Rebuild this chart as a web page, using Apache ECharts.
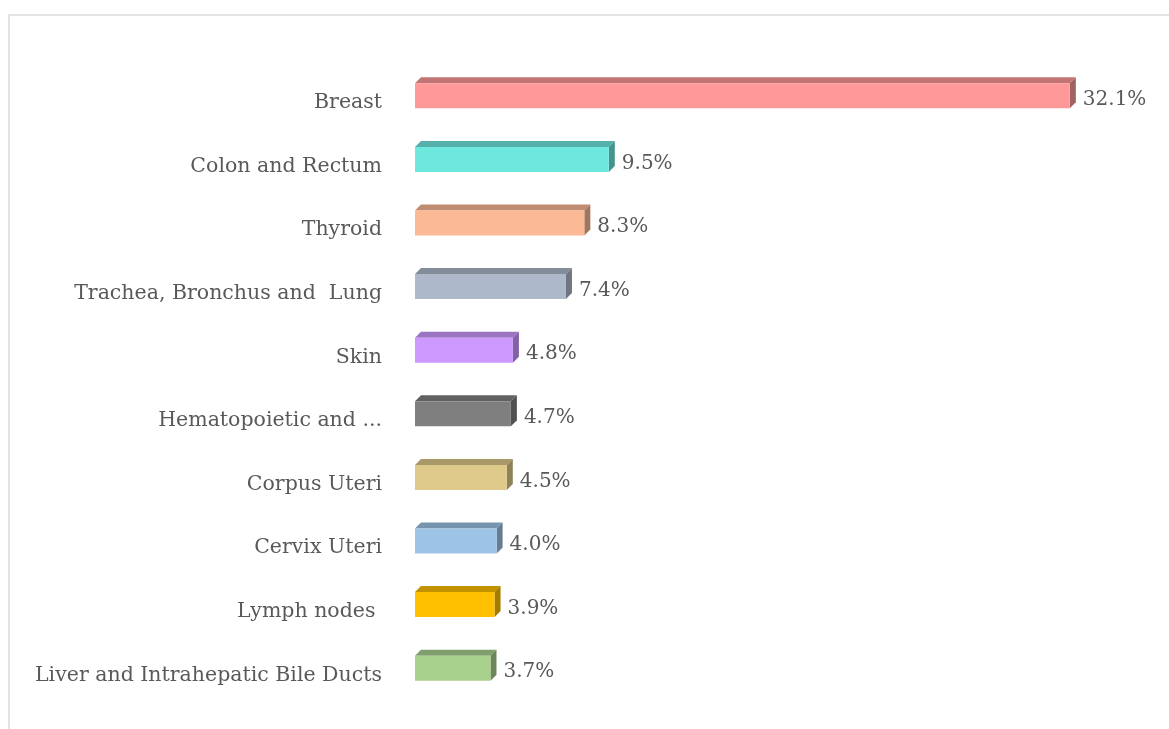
<!DOCTYPE html>
<html>
<head>
<meta charset="utf-8">
<script src="https://cdn.jsdelivr.net/npm/echarts@6/dist/echarts.min.js"></script>
<style>
  html, body { margin: 0; padding: 0; background: #fff; }
  #chart-container { width: 1169px; height: 729px; }
</style>
</head>
<body>
<div id="chart-container"></div>
<script>
var categories = [
  'Breast',
  'Colon and Rectum',
  'Thyroid',
  'Trachea, Bronchus and  Lung',
  'Skin',
  'Hematopoietic and ...',
  'Corpus Uteri',
  'Cervix Uteri',
  'Lymph nodes ',
  'Liver and Intrahepatic Bile Ducts'
];
var values = [32.1, 9.5, 8.3, 7.4, 4.8, 4.7, 4.5, 4.0, 3.9, 3.7];
var barColors = [
  '#FF9999', '#6EE8DF', '#FBB995', '#ADB9CA', '#CC99FF',
  '#7F7F7F', '#DFC98A', '#9DC3E6', '#FFC000', '#A9D18E'
];

var dom = document.getElementById('chart-container');
var myChart = echarts.init(dom, null, { renderer: 'canvas' });

var textColor = '#595959';
var fontFamily = '"DejaVu Serif", "Liberation Serif", serif';

// multiply rgb channels to get the shaded faces
function shade(hex, k) {
  var n = parseInt(hex.slice(1), 16);
  var r = Math.round(((n >> 16) & 255) * k);
  var g = Math.round(((n >> 8) & 255) * k);
  var b = Math.round((n & 255) * k);
  return 'rgb(' + r + ',' + g + ',' + b + ')';
}

function renderBar(params, api) {
  var idx = api.value(0);
  var val = api.value(1);
  var start = api.coord([0, idx]);
  var end = api.coord([val, idx]);
  var h = 25, d = 6;
  var cy = start[1] - 7;
  var x0 = start[0], x1 = end[0];
  var y0 = cy - h / 2, y1 = cy + h / 2;
  var c = barColors[idx];
  return {
    type: 'group',
    children: [
      {
        type: 'polygon',
        shape: { points: [[x0, y0], [x0 + d, y0 - d], [x1 + d, y0 - d], [x1, y0]] },
        style: { fill: shade(c, 0.76) }
      },
      {
        type: 'polygon',
        shape: { points: [[x1, y0], [x1 + d, y0 - d], [x1 + d, y1 - d], [x1, y1]] },
        style: { fill: shade(c, 0.64) }
      },
      {
        type: 'rect',
        shape: { x: x0, y: y0, width: x1 - x0, height: h },
        style: { fill: c }
      },
      {
        type: 'text',
        x: x1 + d + 7,
        y: start[1] - 3,
        style: {
          text: val.toFixed(1) + '%',
          fill: textColor,
          font: '20px ' + fontFamily,
          verticalAlign: 'middle',
          align: 'left'
        }
      }
    ]
  };
}

var option = {
  backgroundColor: '#fff',
  animation: false,
  graphic: [{
    type: 'rect',
    shape: { x: 9, y: 15, width: 1250, height: 800 },
    style: { fill: 'none', stroke: '#E3E3E3', lineWidth: 2 }
  }],
  grid: { left: 415, right: 40, top: 71, bottom: 22 },
  xAxis: {
    type: 'value',
    min: 0,
    max: 35,
    show: false
  },
  yAxis: {
    type: 'category',
    data: categories,
    inverse: true,
    axisLine: { show: false },
    axisTick: { show: false },
    axisLabel: {
      margin: 33,
      color: textColor,
      fontSize: 20.5,
      fontFamily: fontFamily,
      padding: [3, 0, 0, 0]
    }
  },
  series: [{
    type: 'custom',
    renderItem: renderBar,
    encode: { x: 1, y: 0 },
    data: values.map(function (v, i) { return [i, v]; })
  }]
};

myChart.setOption(option);
window.addEventListener('resize', myChart.resize);
</script>
</body>
</html>
